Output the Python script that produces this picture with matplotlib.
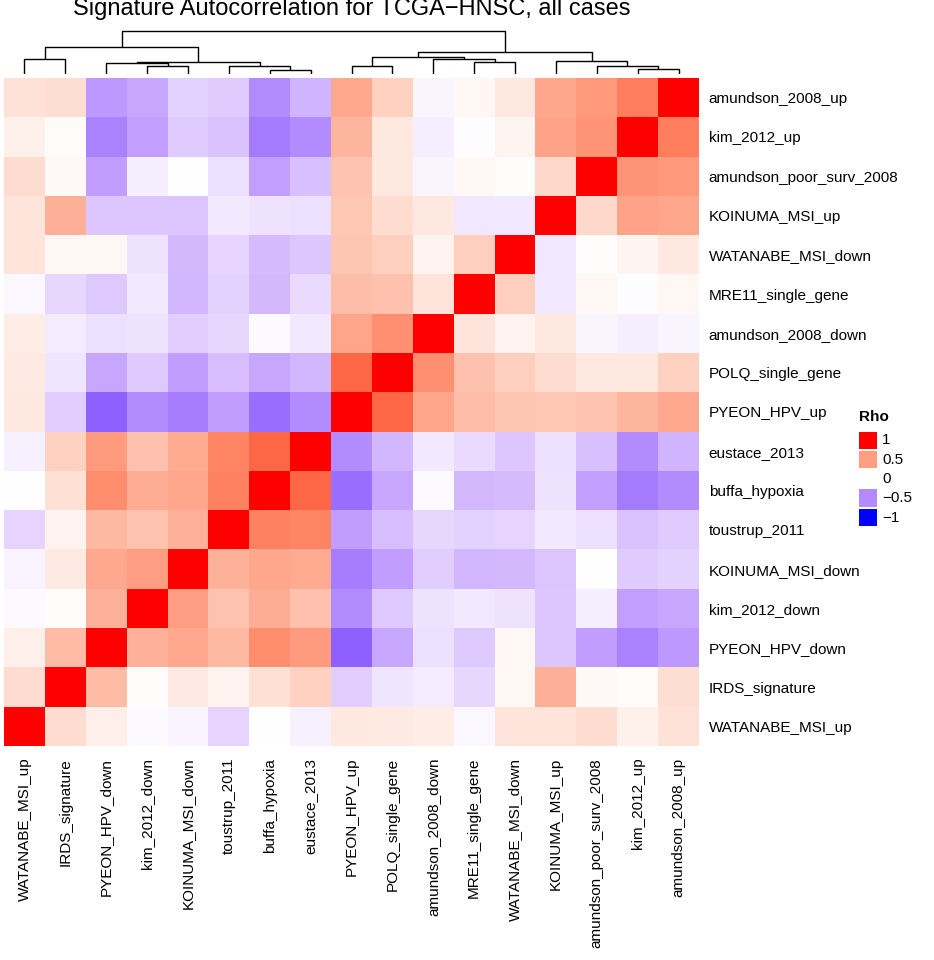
import numpy as np
import matplotlib
matplotlib.use("Agg")
import matplotlib.pyplot as plt
from matplotlib.colors import ListedColormap, Normalize
from matplotlib.patches import Rectangle

# Firmas en el orden de las hojas del dendrograma (izquierda -> derecha)
signatures = [
    "WATANABE_MSI_up", "IRDS_signature", "PYEON_HPV_down", "kim_2012_down",
    "KOINUMA_MSI_down", "toustrup_2011", "buffa_hypoxia", "eustace_2013",
    "PYEON_HPV_up", "POLQ_single_gene", "amundson_2008_down", "MRE11_single_gene",
    "WATANABE_MSI_down", "KOINUMA_MSI_up", "amundson_poor_surv_2008",
    "kim_2012_up", "amundson_2008_up",
]

# Rho de cada firma con las firmas anteriores (triangulo inferior)
rho_IRDS_signature = [0.18]
rho_PYEON_HPV_down = [0.08, 0.35]
rho_kim_2012_down = [-0.02, 0.01, 0.40]
rho_KOINUMA_MSI_down = [-0.05, 0.11, 0.44, 0.50]
rho_toustrup_2011 = [-0.18, 0.06, 0.36, 0.31, 0.40]
rho_buffa_hypoxia = [0.00, 0.16, 0.58, 0.42, 0.45, 0.63]
rho_eustace_2013 = [-0.06, 0.24, 0.51, 0.32, 0.43, 0.62, 0.75]
rho_PYEON_HPV_up = [0.12, -0.21, -0.68, -0.50, -0.56, -0.42, -0.63, -0.50]
rho_POLQ_single_gene = [0.11, -0.11, -0.38, -0.23, -0.42, -0.28, -0.38, -0.31, 0.75]
rho_amundson_2008_down = [0.09, -0.08, -0.13, -0.12, -0.21, -0.17, -0.02, -0.09,
                          0.46, 0.57]
rho_MRE11_single_gene = [-0.03, -0.17, -0.23, -0.09, -0.31, -0.19, -0.30, -0.15,
                         0.34, 0.32, 0.14]
rho_WATANABE_MSI_down = [0.14, 0.04, 0.04, -0.12, -0.30, -0.18, -0.29, -0.24,
                         0.30, 0.25, 0.06, 0.25]
rho_KOINUMA_MSI_up = [0.14, 0.41, -0.24, -0.24, -0.25, -0.09, -0.12, -0.13,
                      0.29, 0.18, 0.12, -0.10, -0.10]
rho_amundson_poor_surv_2008 = [0.18, 0.03, -0.42, -0.07, 0.00, -0.13, -0.41, -0.27,
                               0.31, 0.12, -0.04, 0.04, 0.01, 0.20]
rho_kim_2012_up = [0.07, 0.02, -0.54, -0.41, -0.22, -0.26, -0.57, -0.50,
                   0.38, 0.12, -0.07, -0.01, 0.05, 0.47, 0.55]
rho_amundson_2008_up = [0.15, 0.17, -0.44, -0.38, -0.19, -0.22, -0.50, -0.32,
                        0.44, 0.24, -0.04, 0.04, 0.12, 0.45, 0.52, 0.65]

lower = [[], rho_IRDS_signature, rho_PYEON_HPV_down, rho_kim_2012_down,
         rho_KOINUMA_MSI_down, rho_toustrup_2011, rho_buffa_hypoxia, rho_eustace_2013,
         rho_PYEON_HPV_up, rho_POLQ_single_gene, rho_amundson_2008_down,
         rho_MRE11_single_gene, rho_WATANABE_MSI_down, rho_KOINUMA_MSI_up,
         rho_amundson_poor_surv_2008, rho_kim_2012_up, rho_amundson_2008_up]

# Uniones del dendrograma: (hijo a, hijo b, altura); ids >= 17 son uniones previas
merges = [
    (0, 1, 14.7), (3, 4, 8.3), (2, 18, 10.7), (6, 7, 4.0), (5, 20, 8.0),
    (19, 21, 11.7), (17, 22, 26.7), (8, 9, 8.0), (11, 12, 11.7), (10, 25, 15.0),
    (24, 26, 17.3), (15, 16, 5.0), (14, 28, 8.3), (13, 29, 13.3), (27, 30, 21.7),
    (23, 31, 43.0),
]

legend_values = [1, 0.5, 0, -0.5, -1]
legend_labels = ["1", "0.5", "0", "\u22120.5", "\u22121"]

n = len(signatures)
M = np.eye(n)
for i, row in enumerate(lower):
    for j, v in enumerate(row):
        M[i, j] = v
        M[j, i] = v


# Paleta azul-blanco-rojo interpolada en espacio Lab (como colorRampPalette)
def srgb_to_lab(c):
    c = np.asarray(c, float)
    lin = np.where(c <= 0.04045, c / 12.92, ((c + 0.055) / 1.055) ** 2.4)
    m = np.array([[0.4124, 0.3576, 0.1805], [0.2126, 0.7152, 0.0722],
                  [0.0193, 0.1192, 0.9505]])
    t = (m @ lin) / np.array([0.95047, 1.0, 1.08883])
    d = 6 / 29
    f = np.where(t > d ** 3, np.cbrt(t), t / (3 * d * d) + 4 / 29)
    return np.array([116 * f[1] - 16, 500 * (f[0] - f[1]), 200 * (f[1] - f[2])])


def lab_to_srgb(lab):
    L, a, b = lab
    fy = (L + 16) / 116
    f = np.array([fy + a / 500, fy, fy - b / 200])
    d = 6 / 29
    t = np.where(f > d, f ** 3, 3 * d * d * (f - 4 / 29))
    xyz = t * np.array([0.95047, 1.0, 1.08883])
    minv = np.linalg.inv(np.array([[0.4124, 0.3576, 0.1805], [0.2126, 0.7152, 0.0722],
                                   [0.0193, 0.1192, 0.9505]]))
    lin = np.clip(minv @ xyz, 0, 1)
    c = np.where(lin <= 0.0031308, 12.92 * lin, 1.055 * lin ** (1 / 2.4) - 0.055)
    return np.clip(c, 0, 1)


blue, white, red = srgb_to_lab([0, 0, 1]), srgb_to_lab([1, 1, 1]), srgb_to_lab([1, 0, 0])
cols = []
for t in np.linspace(-1, 1, 201):
    if t < 0:
        lab = white + (blue - white) * (-t)
    else:
        lab = white + (red - white) * t
    cols.append(lab_to_srgb(lab))
cmap = ListedColormap(cols)
norm = Normalize(-1, 1)

plt.rcParams['font.family'] = ['Liberation Sans', 'DejaVu Sans']

W, H = 934, 960
fig = plt.figure(figsize=(W / 100, H / 100), dpi=100)


def px_axes(x0, y0, x1, y1):
    return fig.add_axes([x0 / W, 1 - y1 / H, (x1 - x0) / W, (y1 - y0) / H])


# Mapa de calor
ax = px_axes(4, 78, 699, 746)
ax.imshow(M[::-1, :], cmap=cmap, norm=norm, aspect='auto', interpolation='nearest')
ax.set_xticks(range(n))
ax.set_xticklabels(signatures, rotation=90, fontsize=11)
ax.set_yticks(range(n))
ax.set_yticklabels(signatures[::-1], fontsize=11)
ax.yaxis.tick_right()
ax.tick_params(axis='x', length=0, pad=8.5)
ax.tick_params(axis='y', length=0, pad=7)
for s in ax.spines.values():
    s.set_visible(False)

# Dendrograma de columnas
axd = px_axes(4, 24, 699, 74)
xs = {i: float(i) for i in range(n)}
hs = {i: 0.0 for i in range(n)}
for k, (a, b, h) in enumerate(merges):
    axd.plot([xs[a], xs[a], xs[b], xs[b]], [hs[a], h, h, hs[b]],
             color='black', lw=1.0, solid_capstyle='butt')
    xs[n + k] = (xs[a] + xs[b]) / 2
    hs[n + k] = h
axd.set_xlim(-0.5, n - 0.5)
axd.set_ylim(0, 50)
axd.axis('off')

# Titulo y leyenda en coordenadas de pixel
axo = fig.add_axes([0, 0, 1, 1])
axo.set_xlim(0, W)
axo.set_ylim(H, 0)
axo.axis('off')
axo.text(351.5, 15, "Signature Autocorrelation for TCGA\u2212HNSC, all cases",
         fontsize=17, ha='center', va='baseline')
axo.text(859, 417, "Rho", fontsize=11, fontweight='bold', ha='left', va='center')
for i, (v, lab) in enumerate(zip(legend_values, legend_labels)):
    yc = 440.5 + 19.3 * i
    axo.add_patch(Rectangle((859, yc - 9), 18, 17.5, color=cmap(norm(v)), lw=0))
    axo.text(882, yc, lab, fontsize=11, ha='left', va='center')

fig.savefig("out.png", dpi=100)
